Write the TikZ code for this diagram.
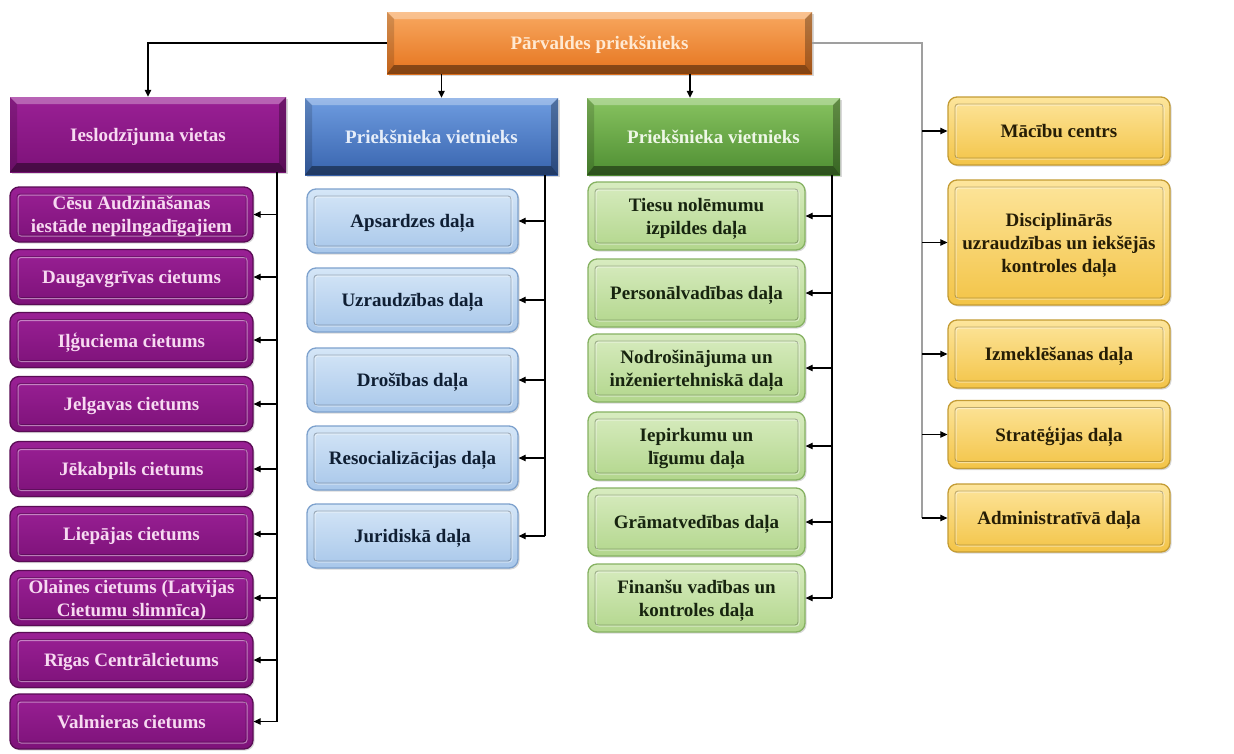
\documentclass[tikz,border=0pt]{standalone}
\usepackage{fontspec}
\setmainfont{Liberation Serif}
\usetikzlibrary{arrows.meta,calc,shadows}
\definecolor{orT}{HTML}{F8A860}\definecolor{orB}{HTML}{E5741E}\definecolor{orTx}{HTML}{FFE9D2}
\definecolor{puT}{HTML}{9A2095}\definecolor{puB}{HTML}{7D1279}\definecolor{puD}{HTML}{5A0C55}\definecolor{puTx}{HTML}{F7DAF1}
\definecolor{blT}{HTML}{6E9CE0}\definecolor{blB}{HTML}{3864AE}\definecolor{blTx}{HTML}{E6EEF9}
\definecolor{lbT}{HTML}{D5E6F7}\definecolor{lbB}{HTML}{A8C7EA}\definecolor{lbD}{HTML}{7DA1CD}\definecolor{lbTx}{HTML}{0F1E33}
\definecolor{grT}{HTML}{88C360}\definecolor{grB}{HTML}{4E8E32}\definecolor{grTx}{HTML}{EEF7E6}
\definecolor{lgT}{HTML}{D8ECC0}\definecolor{lgB}{HTML}{B2D68C}\definecolor{lgD}{HTML}{86B262}\definecolor{lgTx}{HTML}{17240F}
\definecolor{yeT}{HTML}{FDE59C}\definecolor{yeB}{HTML}{F3C447}\definecolor{yeD}{HTML}{C49C34}\definecolor{yeTx}{HTML}{261D05}
\tikzset{
  lbl/.style={font=\fontsize{19}{23}\selectfont\bfseries, align=center, inner sep=0pt, text depth=0pt},
  bevel/.style={rectangle, lbl,
    drop shadow={opacity=0.3, shadow xshift=2pt, shadow yshift=-2pt},
    path picture={
      \coordinate (pa) at (path picture bounding box.north west);
      \coordinate (pb) at (path picture bounding box.north east);
      \coordinate (pc) at (path picture bounding box.south east);
      \coordinate (pd) at (path picture bounding box.south west);
      \fill[white,opacity=0.3] (pa) -- (pb) -- ([shift={(-7pt,-7pt)}]pb) -- ([shift={(7pt,-7pt)}]pa) -- cycle;
      \fill[black,opacity=0.42] (pd) -- (pc) -- ([shift={(-7pt,9pt)}]pc) -- ([shift={(7pt,9pt)}]pd) -- cycle;
      \fill[black,opacity=0.15] (pa) -- ([shift={(7pt,-7pt)}]pa) -- ([shift={(7pt,9pt)}]pd) -- (pd) -- cycle;
      \fill[black,opacity=0.28] (pb) -- ([shift={(-7pt,-7pt)}]pb) -- ([shift={(-7pt,9pt)}]pc) -- (pc) -- cycle;
    }},
  rbox/.style={rectangle, rounded corners=9pt, lbl, line width=1.3pt,
    drop shadow={opacity=0.3, shadow xshift=1.5pt, shadow yshift=-1.5pt},
    path picture={
      \coordinate (pa) at (path picture bounding box.north west);
      \coordinate (pc) at (path picture bounding box.south east);
      \draw[white,opacity=0.45,line width=1pt,rounded corners=3pt] ([shift={(8pt,-8pt)}]pa) rectangle ([shift={(-6pt,6pt)}]pc);
      \draw[black,opacity=0.25,line width=0.9pt,rounded corners=3pt] ([shift={(7pt,-7pt)}]pa) rectangle ([shift={(-7pt,7pt)}]pc);
    }},
  tophdr/.style={bevel, top color=orT, bottom color=orB, text=orTx, minimum width=425pt, minimum height=62pt},
  puhdr/.style={bevel, top color=puT, bottom color=puB, text=puTx, minimum width=276pt, minimum height=75pt},
  blhdr/.style={bevel, top color=blT, bottom color=blB, text=blTx, minimum width=253pt, minimum height=77pt},
  grhdr/.style={bevel, top color=grT, bottom color=grB, text=grTx, minimum width=253pt, minimum height=77pt},
  puc/.style={rbox, draw=puD, top color=puT, bottom color=puB, text=puTx, minimum width=243pt, minimum height=55pt},
  blc/.style={rbox, draw=lbD, top color=lbT, bottom color=lbB, text=lbTx, minimum width=211pt, minimum height=64pt},
  grc/.style={rbox, draw=lgD, top color=lgT, bottom color=lgB, text=lgTx, minimum width=217pt, minimum height=68pt},
  yec/.style={rbox, draw=yeD, top color=yeT, bottom color=yeB, text=yeTx, minimum width=222pt, minimum height=68pt},
  conn/.style={draw=black, line width=1.1pt, -{Triangle[length=7pt,width=6.5pt]}},
  trunk/.style={draw=black, line width=1.1pt},
  gtrunk/.style={draw=gray!75, line width=1.1pt},
}
\begin{document}
\begin{tikzpicture}[x=1pt,y=-1pt]
\useasboundingbox[fill=white] (0,0) rectangle (1234,753);
% top
\node[tophdr] (top) at (599.5,43) {Pārvaldes priekšnieks};
% purple column
\node[puhdr] (ies) at (148,134.5) {Ieslodzījuma vietas};
\node[puc] (p1) at (131.5,214.5) {Cēsu Audzināšanas\\iestāde nepilngadīgajiem};
\node[puc] (p2) at (131.5,277) {Daugavgrīvas cietums};
\node[puc] (p3) at (131.5,340) {Iļģuciema cietums};
\node[puc] (p4) at (131.5,404) {Jelgavas cietums};
\node[puc] (p5) at (131.5,469) {Jēkabpils cietums};
\node[puc] (p6) at (131.5,534) {Liepājas cietums};
\node[puc] (p7) at (131.5,598) {Olaines cietums (Latvijas\\Cietumu slimnīca)};
\node[puc] (p8) at (131.5,660) {Rīgas Centrālcietums};
\node[puc] (p9) at (131.5,721.5) {Valmieras cietums};
% blue column
\node[blhdr] (bh) at (431.5,136.5) {Priekšnieka vietnieks};
\node[blc] (b1) at (412.5,221) {Apsardzes daļa};
\node[blc] (b2) at (412.5,300) {Uzraudzības daļa};
\node[blc] (b3) at (412.5,380) {Drošības daļa};
\node[blc] (b4) at (412.5,458) {Resocializācijas\ daļa};
\node[blc] (b5) at (412.5,536) {Juridiskā daļa};
% green column
\node[grhdr] (gh) at (713.5,136.5) {Priekšnieka vietnieks};
\node[grc] (g1) at (696.5,216) {Tiesu nolēmumu\\izpildes daļa};
\node[grc] (g2) at (696.5,293) {Personālvadības daļa};
\node[grc] (g3) at (696.5,368) {Nodrošinājuma\ un\\inženiertehniskā daļa};
\node[grc] (g4) at (696.5,446) {Iepirkumu un\\līgumu daļa};
\node[grc] (g5) at (696.5,522) {Grāmatvedības daļa};
\node[grc] (g6) at (696.5,598) {Finanšu vadības un\\kontroles daļa};
% yellow column
\node[yec] (y1) at (1059,131) {Mācību centrs};
\node[yec, minimum height=125pt] (y2) at (1059,242.5) {Disciplinārās\\uzraudzības un iekšējās\\kontroles daļa};
\node[yec] (y3) at (1059,354) {Izmeklēšanas daļa};
\node[yec] (y4) at (1059,434.5) {Stratēģijas\ daļa};
\node[yec] (y5) at (1059,518) {Administratīvā daļa};
% connectors from top
\draw[conn] (top.west) -| (ies.north);
\draw[conn] ([xshift=10pt]bh.north |- top.south) -- ([xshift=10pt]bh.north);
\draw[conn] ([xshift=-23.5pt]gh.north |- top.south) -- ([xshift=-23.5pt]gh.north);
% purple trunk
\coordinate (pt) at (277,172);
\draw[trunk] (pt) -- (pt |- p9.east);
\foreach \n in {p1,p2,p3,p4,p5,p6,p7,p8,p9} \draw[conn] (pt |- \n.east) -- (\n.east);
% blue trunk
\coordinate (bt) at (545,175);
\draw[trunk] (bt) -- (bt |- b5.east);
\foreach \n in {b1,b2,b3,b4,b5} \draw[conn] (bt |- \n.east) -- (\n.east);
% green trunk
\coordinate (gt) at (832,175);
\draw[trunk] (gt) -- (gt |- g6.east);
\foreach \n in {g1,g2,g3,g4,g5,g6} \draw[conn] (gt |- \n.east) -- (\n.east);
% right trunk
\coordinate (rt) at (922,43);
\draw[gtrunk] (top.east) -- (rt) -- (rt |- y5.west);
\foreach \n in {y1,y2,y3,y4,y5} \draw[conn] (rt |- \n.west) -- (\n.west);
\end{tikzpicture}
\end{document}
